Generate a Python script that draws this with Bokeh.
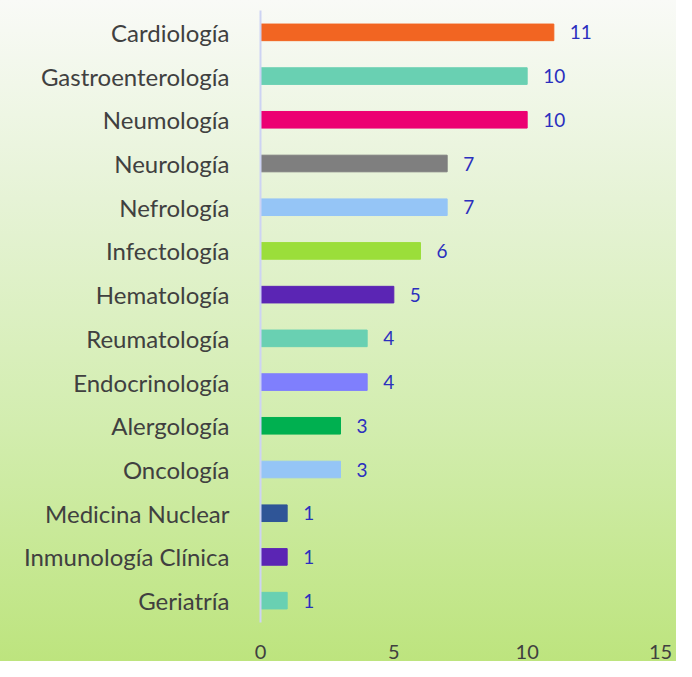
from bokeh.plotting import figure
from bokeh.models import ColumnDataSource, LabelSet, FactorRange, Range1d, FixedTicker
from bokeh.core.properties import value
from bokeh.embed import file_html
from bokeh.resources import INLINE

categories = ["Cardiología", "Gastroenterología", "Neumología", "Neurología", "Nefrología",
              "Infectología", "Hematología", "Reumatología", "Endocrinología", "Alergología",
              "Oncología", "Medicina Nuclear", "Inmunología Clínica", "Geriatría"]
values = [11, 10, 10, 7, 7, 6, 5, 4, 4, 3, 3, 1, 1, 1]
bar_colors = ["#F26522", "#69D0B2", "#EC0072", "#7F7F7F", "#95C5F6", "#9BDE3A", "#5B25B4",
              "#69D0B2", "#7F7FFD", "#00B050", "#95C5F6", "#2F5597", "#5B25B4", "#69D0B2"]
x_ticks = [0, 5, 10, 15]

src = ColumnDataSource(dict(cat=categories, val=values, color=bar_colors,
                            label=[str(v) for v in values]))

p = figure(width=676, height=661,
           y_range=FactorRange(factors=list(reversed(categories))),
           x_range=Range1d(0, 15),
           output_backend="svg", toolbar_location=None,
           min_border_left=260, min_border_right=16, min_border_top=10, min_border_bottom=31)

p.styles = {"background": "linear-gradient(to bottom, #F9FAF7 0%, #E6F3D6 30%, #D2EDAE 65%, #BDE47E 100%)"}
p.background_fill_alpha = 0
p.border_fill_alpha = 0
p.outline_line_color = None
p.grid.visible = False

p.hbar(y="cat", right="val", left=0, height=0.38, color="color", source=src)

labels = LabelSet(x="val", y="cat", text="label", source=src, x_offset=16,
                  text_baseline="middle", text_align="left",
                  text_color="#2B2FBE", text_font=value("Lato"), text_font_size="19px")
p.add_layout(labels)

p.xaxis.ticker = FixedTicker(ticks=x_ticks)
p.xaxis.axis_line_color = None
p.xaxis.major_tick_line_color = None
p.xaxis.minor_tick_line_color = None
p.xaxis.major_label_text_font = "Lato"
p.xaxis.major_label_text_font_size = "20px"
p.xaxis.major_label_text_color = "#404040"
p.xaxis.major_label_standoff = 16

p.yaxis.axis_line_color = "#CDD3F3"
p.yaxis.axis_line_width = 2
p.yaxis.major_tick_line_color = None
p.yaxis.minor_tick_line_color = None
p.yaxis.major_label_text_font = "Lato"
p.yaxis.major_label_text_font_size = "24px"
p.yaxis.major_label_text_color = "#404040"
p.yaxis.major_label_standoff = 25

open("out.html", "w").write(file_html(p, INLINE))
